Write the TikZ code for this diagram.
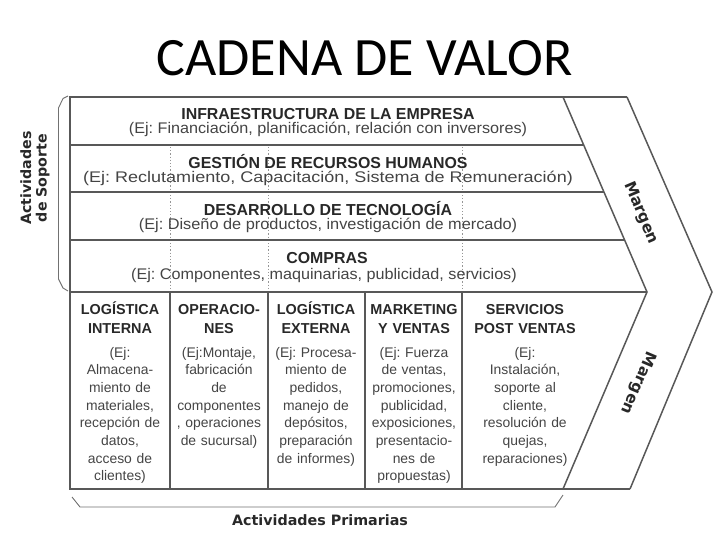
\documentclass[tikz,border=0pt]{standalone}
\usepackage{graphicx}
\usepackage{fontspec}
\setmainfont{Liberation Sans}
\newfontfamily\titlefont{Carlito}
\newfontfamily\labfont{DejaVu Sans}
\definecolor{linec}{RGB}{88,88,88}
\definecolor{headc}{RGB}{40,40,40}
\definecolor{bodyc}{RGB}{68,68,68}
\definecolor{dotc}{RGB}{150,150,150}
\newcommand{\hstretch}[2]{\scalebox{#1}[1]{#2}}
\tikzset{
  frame/.style={draw=linec, line width=1.5pt, line join=miter},
  sepline/.style={draw=linec, line width=1.4pt},
  dotline/.style={draw=dotc, line width=0.7pt, dash pattern=on 1.2pt off 2pt},
  bracketline/.style={draw=linec!85, line width=0.9pt, line join=round},
  rowhead/.style={anchor=base, inner sep=0pt, text=headc, font=\frenchspacing\bfseries\fontsize{15.9}{16}\selectfont},
  rowsub/.style={anchor=base, inner sep=0pt, text=bodyc, font=\frenchspacing\fontsize{15.4}{16}\selectfont},
  colhead/.style={anchor=north, inner sep=0pt, text width=104pt, align=center, text=headc, font=\frenchspacing\bfseries\fontsize{14.4}{18.5}\selectfont},
  coldesc/.style={anchor=north, inner sep=0pt, text width=104pt, align=center, text=bodyc, font=\frenchspacing\fontsize{13.9}{17.7}\selectfont},
  sidelab/.style={inner sep=0pt, text=headc, align=center, font=\labfont\bfseries\fontsize{14.2}{15.5}\selectfont},
  marglab/.style={inner sep=0pt, text=headc, font=\labfont\bfseries\fontsize{15.5}{17}\selectfont}
}
\begin{document}
\begin{tikzpicture}[x=1pt,y=-1pt]
\useasboundingbox (0,0) rectangle (728,546);

% title
\node[anchor=base, inner sep=0pt, font=\titlefont\fontsize{54}{60}\selectfont] (title) at (364.5,75) {CADENA DE VALOR};

% key points of the frame
\coordinate (TL) at (70,97);
\coordinate (TR) at (563,97);
\coordinate (TM) at (627,97);
\coordinate (Tip) at (647,292);
\coordinate (TipO) at (712,292);
\coordinate (BR) at (563,489);
\coordinate (BM) at (630,489);
\coordinate (BL) at (70,489);
\coordinate (ML) at (70,292);

% dotted guide lines in support area
\foreach \xx in {170,268,462} \draw[dotline] (\xx,147) -- (\xx,290);

% support separators
\draw[sepline] (70,145) -- (583.7,145);
\draw[sepline] (70,192) -- (603.9,192);
\draw[sepline] (70,240) -- (624.6,240);
\draw[frame] (ML) -- (Tip);

% primary column separators
\foreach \xx in {170,268,365,462} \draw[sepline] (\xx,292) -- (\xx,489);

% frame and margin band
\draw[frame] (TM) -- (TL) -- (BL) -- (BM);
\draw[frame] (TR) -- (Tip) -- (BR);
\draw[frame] (TM) -- (TipO) -- (BM);

% support activities
\node[rowhead] (h1) at (328,119.5) {INFRAESTRUCTURA DE LA EMPRESA};
\node[rowsub]  (s1) at (328,133) {\hstretch{1.05}{(Ej: Financiación, planificación, relación con inversores)}};
\node[rowhead] (h2) at (328,168) {GESTIÓN DE RECURSOS HUMANOS};
\node[rowsub]  (s2) at (328,182.5) {\hstretch{1.17}{(Ej: Reclutamiento, Capacitación, Sistema de Remuneración)}};
\node[rowhead] (h3) at (328,215) {DESARROLLO DE TECNOLOGÍA};
\node[rowsub]  (s3) at (328,229) {\hstretch{1.06}{(Ej: Diseño de productos, investigación de mercado)}};
\node[rowhead] (h4) at (327,263.5) {COMPRAS};
\node[rowsub]  (s4) at (324,279) {\hstretch{1.05}{(Ej: Componentes, maquinarias, publicidad, servicios)}};

% primary activities
\node[colhead] (c1) at (120,301.5) {\strut LOGÍSTICA\\INTERNA};
\node[colhead] (c2) at (219,301.5) {\strut OPERACIO-\\NES};
\node[colhead] (c3) at (316,301.5) {\strut LOGÍSTICA\\EXTERNA};
\node[colhead] (c4) at (414,301.5) {\strut MARKETING\\Y VENTAS};
\node[colhead] (c5) at (525,301.5) {\strut SERVICIOS\\POST VENTAS};

\node[coldesc] (d1) at (120,344.5) {\strut (Ej:\\Almacena-\\miento de\\materiales,\\recepción de\\datos,\\acceso de\\clientes)};
\node[coldesc] (d2) at (219,344.5) {\strut (Ej:Montaje,\\fabricación\\de\\componentes\\, operaciones\\de sucursal)};
\node[coldesc] (d3) at (316,344.5) {\strut (Ej: Procesa-\\miento de\\pedidos,\\manejo de\\depósitos,\\preparación\\de informes)};
\node[coldesc] (d4) at (414,344.5) {\strut (Ej: Fuerza\\de ventas,\\promociones,\\publicidad,\\exposiciones,\\presentacio-\\nes de\\propuestas)};
\node[coldesc] (d5) at (525,344.5) {\strut (Ej:\\Instalación,\\soporte al\\cliente,\\resolución de\\quejas,\\reparaciones)};

% margin labels
\node[marglab, rotate=-67] (m1) at (641,213) {Margen};
\node[marglab, rotate=-113] (m2) at (638,383) {Margen};

% brackets
\draw[bracketline] (68,96) -- (63,98.5) -- (58.5,108) -- (58.5,279) -- (63,288) -- (68,291);
\draw[bracketline] (72,497) -- (80,507) -- (555,507) -- (563,495);

\node[sidelab, rotate=90] (sop) at (35,178) {Actividades\\de Soporte};
\node[sidelab, anchor=base, font=\labfont\bfseries\fontsize{14.3}{16}\selectfont] (prim) at (320,525) {Actividades Primarias};

\end{tikzpicture}
\end{document}
